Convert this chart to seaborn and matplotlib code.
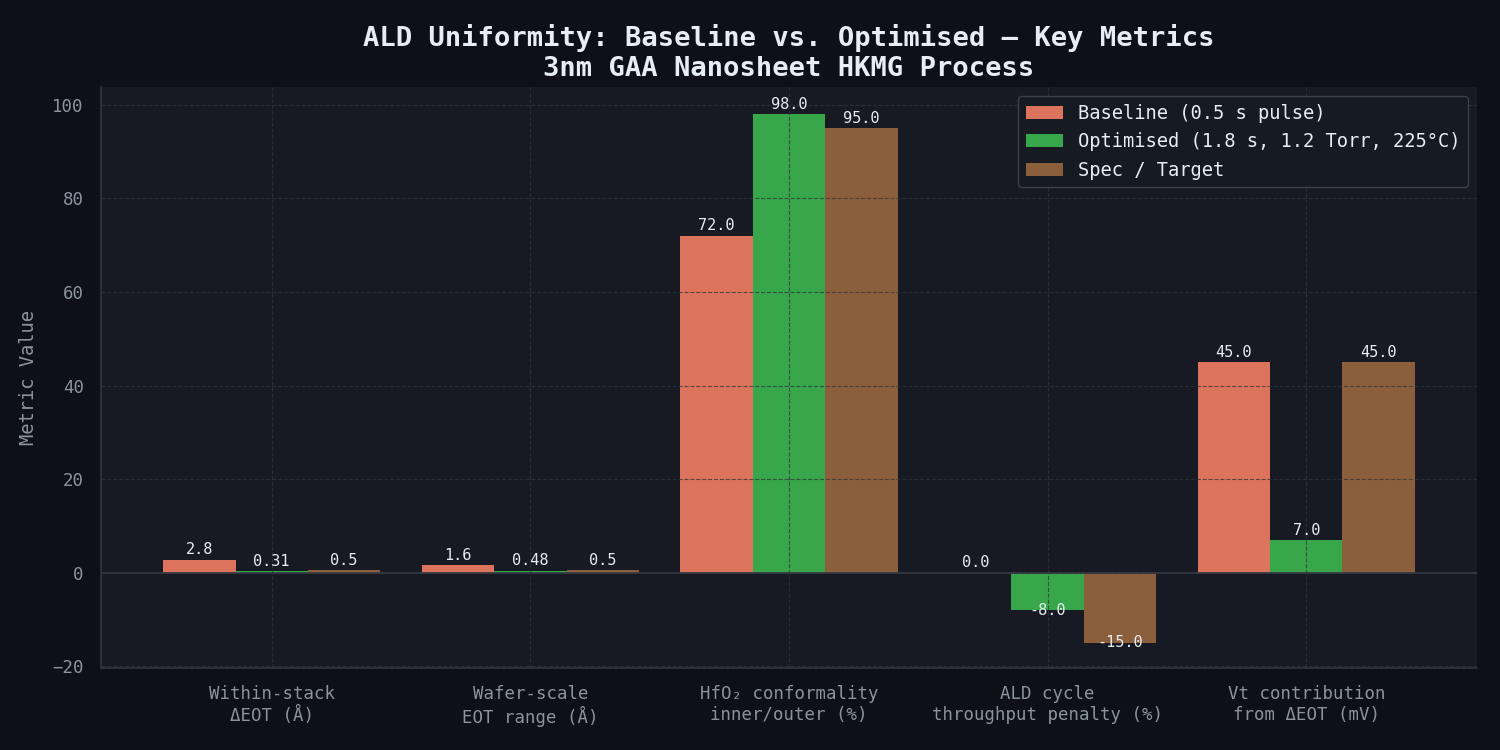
import pandas as pd
import numpy as np
import seaborn as sns
import matplotlib.pyplot as plt

# Data
metrics = ["Within-stack\nΔEOT (Å)", "Wafer-scale\nEOT range (Å)",
           "HfO₂ conformality\ninner/outer (%)", "ALD cycle\nthroughput penalty (%)",
           "Vt contribution\nfrom ΔEOT (mV)"]
series = ["Baseline (0.5 s pulse)", "Optimised (1.8 s, 1.2 Torr, 225°C)", "Spec / Target"]
baseline = [2.8, 1.6, 72.0, 0.0, 45.0]
optimised = [0.31, 0.48, 98.0, -8.0, 7.0]
spec = [0.5, 0.5, 95.0, -15.0, 45.0]
colors = ["#dc735d", "#38a64b", "#8b5f3c"]

BG = "#0d1017"
AX_BG = "#171a22"
TXT = "#e6edf3"
MUTED = "#8b949e"
EDGE = "#30353e"

df = pd.DataFrame({
    "metric": metrics * 3,
    "series": np.repeat(series, len(metrics)),
    "value": baseline + optimised + spec,
})

sns.set_style("dark")
plt.rcParams["font.family"] = ["DejaVu Sans Mono"]

fig, ax = plt.subplots(figsize=(15, 7.5), dpi=100)
fig.patch.set_facecolor(BG)
ax.set_facecolor(AX_BG)

sns.barplot(data=df, x="metric", y="value", hue="series", hue_order=series,
            palette=colors, width=0.84, saturation=1, linewidth=0,
            edgecolor="none", ax=ax)

# value labels
for cont, vals in zip(ax.containers, [baseline, optimised, spec]):
    for bar, v in zip(cont, vals):
        x = bar.get_x() + bar.get_width() / 2
        if v >= 0:
            ax.text(x, v + 0.5, f"{v:g}" if v < 1 and v != 0 else f"{v:.1f}",
                    ha="center", va="bottom", fontsize=11, color=TXT, zorder=5)
        else:
            ax.text(x, v, f"{v:.1f}", ha="center", va="center", fontsize=11,
                    color=TXT, zorder=5)

ax.axhline(0, color="#353a43", linewidth=1.3, zorder=2)
ax.set_axisbelow(False)
ax.grid(True, linestyle="--", color="#30353e", alpha=0.75, linewidth=0.8)

ax.set_xlim(-0.662, 4.662)
ax.set_ylim(-20.4, 103.8)

ax.set_title("ALD Uniformity: Baseline vs. Optimised — Key Metrics\n3nm GAA Nanosheet HKMG Process",
             fontsize=19.5, fontweight="bold", color=TXT, pad=8)
ax.set_xlabel("")
ax.set_ylabel("Metric Value", fontsize=13.5, color=MUTED, labelpad=10)
ax.tick_params(axis="both", colors=MUTED, labelsize=12.5, length=5, pad=7)
ax.set_yticks([-20, 0, 20, 40, 60, 80, 100])

for s in ["top", "right"]:
    ax.spines[s].set_visible(False)
for s in ["left", "bottom"]:
    ax.spines[s].set_visible(True)
    ax.spines[s].set_color(EDGE)
    ax.spines[s].set_linewidth(1.2)

leg = ax.legend(loc="upper right", fontsize=13.5, facecolor="#161a21", edgecolor="#3a3f48",
                framealpha=1, labelcolor=TXT, title=None)

plt.subplots_adjust(left=0.067, right=0.985, top=0.884, bottom=0.109)
plt.savefig("out.png", dpi=100, facecolor=BG)
